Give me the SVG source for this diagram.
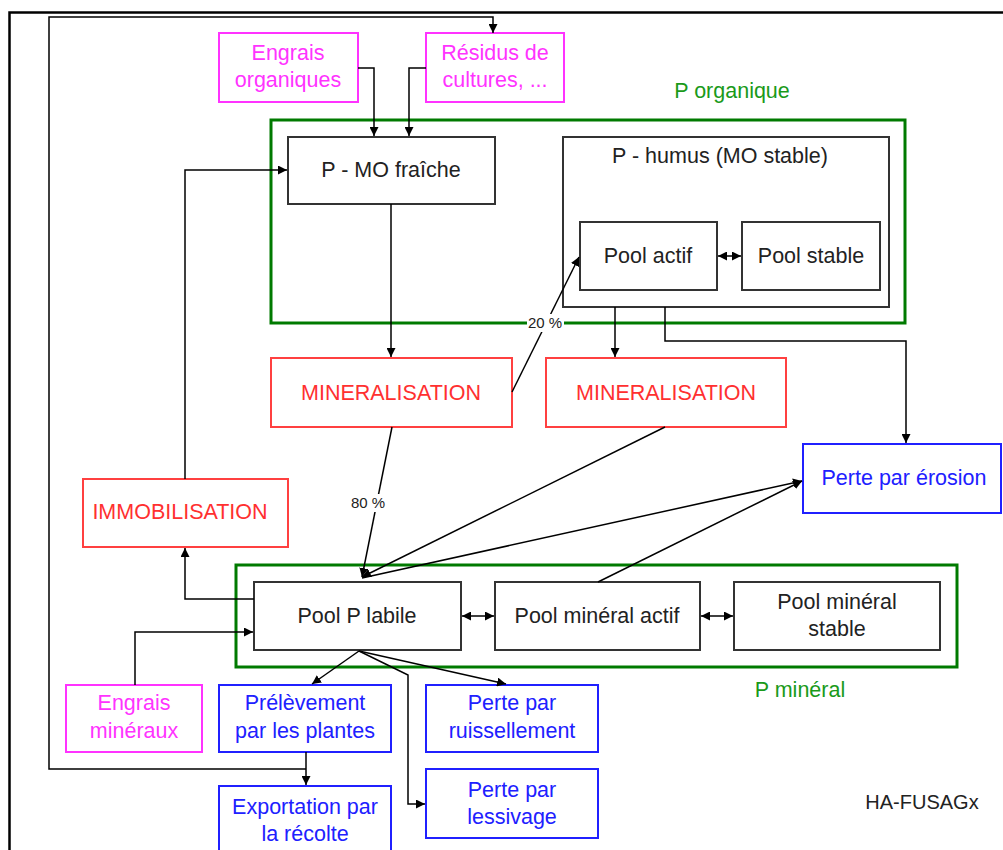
<svg xmlns="http://www.w3.org/2000/svg" width="1003" height="850" viewBox="0 0 1003 850">
  <defs>
    <marker id="arr" viewBox="0 0 10 10" refX="10" refY="5" markerWidth="9" markerHeight="9" markerUnits="userSpaceOnUse" orient="auto-start-reverse">
      <path d="M0,0 L10,5 L0,10 Z" fill="#000"/>
    </marker>
    <style>
      text { font-family: "Liberation Sans", Arial, sans-serif; font-size: 21.5px; text-anchor: middle; }
      .box { fill: #fff; stroke: #333; stroke-width: 2; }
      .mag { fill: #fff; stroke: #ff33ff; stroke-width: 2; }
      .red { fill: #fff; stroke: #ff4040; stroke-width: 2; }
      .blue { fill: #fff; stroke: #2020ff; stroke-width: 2; }
      .grp { fill: none; stroke: #007a00; stroke-width: 3; }
      .tk { fill: #222; }
      .tm { fill: #ff33ff; }
      .tr { fill: #ff3030; }
      .tb { fill: #2020ff; }
      .tg { fill: #1a9a1a; }
      .small { font-size: 15px; fill: #222; }
      .cn { fill: none; stroke: #000; stroke-width: 1.5; }
      .cn .a { marker-end: url(#arr); }
      .cn .b { marker-start: url(#arr); marker-end: url(#arr); }
    </style>
  </defs>
  <rect width="1003" height="850" fill="#fff"/>

  <!-- page frame -->
  <rect x="9.5" y="12.5" width="1010" height="850" fill="none" stroke="#000" stroke-width="2.5"/>

  <!-- group frames -->
  <g id="group-organique">
    <rect class="grp" x="271" y="120" width="634" height="203"/>
    <text class="tg" x="732" y="98">P organique</text>
  </g>
  <g id="group-mineral">
    <rect class="grp" x="236" y="565" width="721" height="102"/>
    <text class="tg" x="800" y="697">P minéral</text>
  </g>

  <!-- inputs -->
  <g id="engrais-organiques">
    <rect class="mag" x="219" y="33" width="139" height="69"/>
    <text class="tm" x="288" y="60">Engrais</text>
    <text class="tm" x="288" y="87">organiques</text>
  </g>
  <g id="residus">
    <rect class="mag" x="426" y="33" width="138" height="69"/>
    <text class="tm" x="495" y="60">Résidus de</text>
    <text class="tm" x="495" y="87">cultures, ...</text>
  </g>
  <g id="engrais-mineraux">
    <rect class="mag" x="66" y="685" width="136" height="67"/>
    <text class="tm" x="134" y="710">Engrais</text>
    <text class="tm" x="134" y="738">minéraux</text>
  </g>

  <!-- organic pools -->
  <g id="mo-fraiche">
    <rect class="box" x="288" y="137" width="207" height="67"/>
    <text class="tk" x="391" y="177">P - MO fraîche</text>
  </g>
  <g id="humus">
    <rect class="box" x="563" y="137" width="326" height="170"/>
    <text class="tk" x="720" y="163">P - humus (MO stable)</text>
  </g>
  <g id="pool-actif">
    <rect class="box" x="580" y="222" width="137" height="68"/>
    <text class="tk" x="648" y="263">Pool actif</text>
  </g>
  <g id="pool-stable">
    <rect class="box" x="742" y="222" width="138" height="68"/>
    <text class="tk" x="811" y="263">Pool stable</text>
  </g>

  <!-- processes -->
  <g id="mineralisation-1">
    <rect class="red" x="271" y="358" width="241" height="69"/>
    <text class="tr" x="391" y="400">MINERALISATION</text>
  </g>
  <g id="mineralisation-2">
    <rect class="red" x="546" y="358" width="240" height="69"/>
    <text class="tr" x="666" y="400">MINERALISATION</text>
  </g>
  <g id="immobilisation">
    <rect class="red" x="83" y="479" width="205" height="68"/>
    <text class="tr" x="180" y="519">IMMOBILISATION</text>
  </g>

  <!-- mineral pools -->
  <g id="pool-labile">
    <rect class="box" x="254" y="582" width="207" height="68"/>
    <text class="tk" x="357" y="623">Pool P labile</text>
  </g>
  <g id="pool-mineral-actif">
    <rect class="box" x="495" y="582" width="205" height="68"/>
    <text class="tk" x="597" y="623">Pool minéral actif</text>
  </g>
  <g id="pool-mineral-stable">
    <rect class="box" x="734" y="582" width="206" height="68"/>
    <text class="tk" x="837" y="609">Pool minéral</text>
    <text class="tk" x="837" y="636">stable</text>
  </g>

  <!-- outputs -->
  <g id="erosion">
    <rect class="blue" x="803" y="444" width="198" height="69"/>
    <text class="tb" x="904" y="485">Perte par érosion</text>
  </g>
  <g id="prelevement">
    <rect class="blue" x="219" y="685" width="172" height="67"/>
    <text class="tb" x="305" y="710">Prélèvement</text>
    <text class="tb" x="305" y="738">par les plantes</text>
  </g>
  <g id="ruissellement">
    <rect class="blue" x="426" y="685" width="172" height="67"/>
    <text class="tb" x="512" y="710">Perte par</text>
    <text class="tb" x="512" y="738">ruissellement</text>
  </g>
  <g id="lessivage">
    <rect class="blue" x="426" y="769" width="172" height="69"/>
    <text class="tb" x="512" y="797">Perte par</text>
    <text class="tb" x="512" y="824">lessivage</text>
  </g>
  <g id="exportation">
    <rect class="blue" x="219" y="786" width="172" height="80"/>
    <text class="tb" x="305" y="814">Exportation par</text>
    <text class="tb" x="305" y="841">la récolte</text>
  </g>

  <!-- connectors, drawn over the boxes so the humus crossing stays visible -->
  <g id="connectors" class="cn">
    <path class="a" d="M306,769 H49 V17 H493 V33"/>
    <path class="a" d="M306,752 V785"/>
    <path class="a" d="M358,68 H374 V136"/>
    <path class="a" d="M426,68 H409 V136"/>
    <path class="a" d="M391,204 V357"/>
    <path class="a" d="M512,392 L579,257"/>
    <path class="a" d="M615,307 V357"/>
    <path class="a" d="M665,307 V341 H906 V443"/>
    <path class="a" d="M392,427 L362,577"/>
    <path class="a" d="M665,427 L362,577"/>
    <path class="a" d="M362,578 L802,481"/>
    <path class="a" d="M598,582 L802,481"/>
    <path class="b" d="M462,616 H494"/>
    <path class="b" d="M701,616 H733"/>
    <path class="b" d="M718,256 H741"/>
    <path class="a" d="M254,599 H185 V548"/>
    <path class="a" d="M185,479 V170 H287"/>
    <path class="a" d="M135,685 V632 H253"/>
    <path class="a" d="M359,651 L312,684"/>
    <path class="a" d="M359,651 L506,684"/>
    <path class="a" d="M359,651 L408,675 V804 H425"/>
  </g>

  <!-- connector labels -->
  <g id="label-20">
    <rect x="527" y="314" width="37" height="18" fill="#fff"/>
    <text class="small" x="545" y="328">20 %</text>
  </g>
  <g id="label-80">
    <rect x="350" y="494" width="37" height="18" fill="#fff"/>
    <text class="small" x="368" y="508">80 %</text>
  </g>

  <text x="922" y="809" style="font-size:20px;fill:#222">HA-FUSAGx</text>
</svg>
